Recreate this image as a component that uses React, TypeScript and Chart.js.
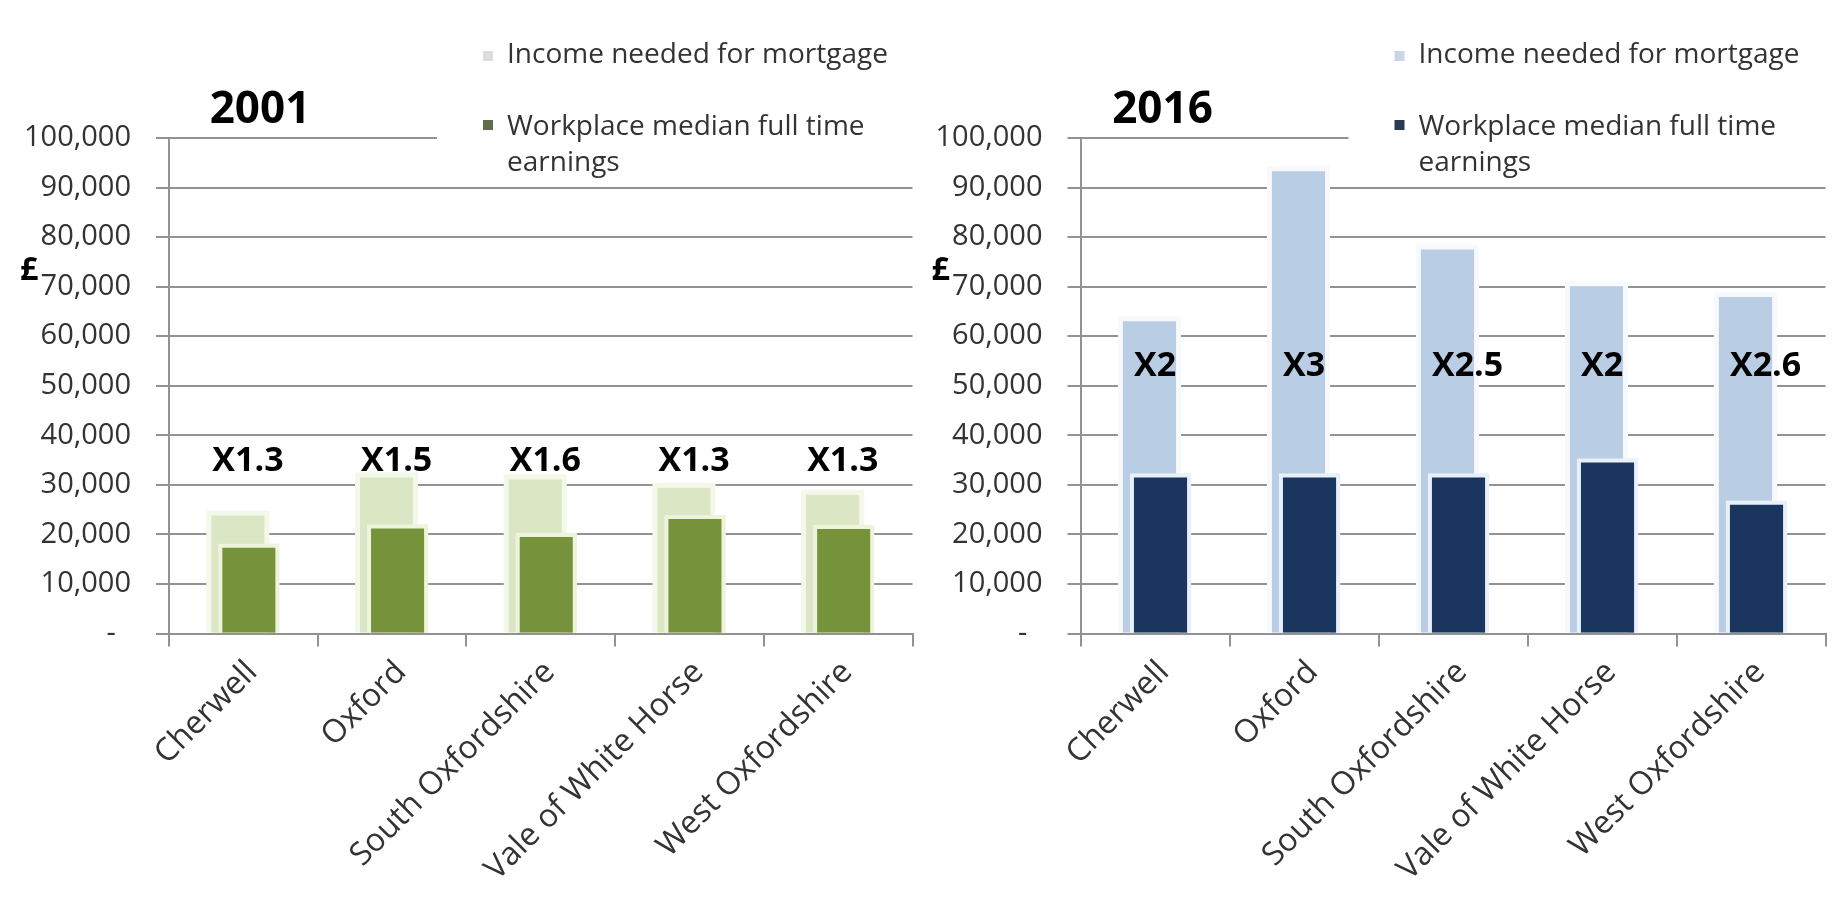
import React, { useEffect, useRef } from 'react';
import { Chart, registerables } from 'chart.js';

Chart.register(...registerables);

// ---------- data ----------
const categories = ['Cherwell', 'Oxford', 'South Oxfordshire', 'Vale of White Horse', 'West Oxfordshire'];
const seriesNames = ['Income needed for mortgage', 'Workplace median full time earnings'];
const legendLines = [['Income needed for mortgage'], ['Workplace median full time', 'earnings']];

const income2001 = [23800, 31500, 31100, 29400, 28000];
const earnings2001 = [17300, 21200, 19500, 23100, 21100];
const multiples2001 = ['X1.3', 'X1.5', 'X1.6', 'X1.3', 'X1.3'];
const multipleLevel2001 = 34800;

const income2016 = [63000, 93300, 77500, 70100, 67900];
const earnings2016 = [31500, 31500, 31500, 34500, 26000];
const multiples2016 = ['X2', 'X3', 'X2.5', 'X2', 'X2.6'];
const multipleLevel2016 = 53900;

const yMin = 0;
const yMax = 100000;
const yStep = 10000;

// ---------- style ----------
const FAMILY = '"Open Sans", "Noto Sans", sans-serif';
const TEXT = '#333333';
const GRID = '#929292';
const GLOW_SIZE = [5, 4];

type PanelSpec = {
  title: string;
  income: number[];
  earnings: number[];
  multiples: string[];
  multipleLevel: number;
  light: string;
  dark: string;
  marker: string[];
  glow: string[];
  left: number;
  yWidth: number;
  padRight: number;
  titleDx: number;
  multDx: number;
};

const W = 910;
const H = 887;

function makeDecor(p: PanelSpec) {
  return {
    id: 'decor' + p.title,
    beforeDatasetsDraw(chart: any) {
      const { ctx, chartArea } = chart;
      ctx.save();
      ctx.fillStyle = '#ffffff';
      ctx.fillRect(chartArea.left + 268, 0, chart.width - chartArea.left - 268, chartArea.top + 10);
      ctx.restore();
    },
    beforeDatasetDraw(chart: any, args: any) {
      const ctx = chart.ctx;
      const meta = chart.getDatasetMeta(args.index);
      const g = GLOW_SIZE[args.index];
      ctx.save();
      ctx.fillStyle = p.glow[args.index];
      meta.data.forEach((el: any) => {
        const { x, y, base, width } = el.getProps(['x', 'y', 'base', 'width'], true);
        ctx.fillRect(x - width / 2 - g, y - g, width + 2 * g, base - y + g);
      });
      ctx.restore();
    },
    afterDatasetsDraw(chart: any) {
      const ctx = chart.ctx;
      // bring the earnings bars (dataset 1) to the front, with their glow
      const meta = chart.getDatasetMeta(1);
      const g = GLOW_SIZE[1];
      ctx.save();
      ctx.fillStyle = p.glow[1];
      meta.data.forEach((el: any) => {
        const { x, y, base, width } = el.getProps(['x', 'y', 'base', 'width'], true);
        ctx.fillRect(x - width / 2 - g, y - g, width + 2 * g, base - y + g);
      });
      ctx.restore();
      meta.data.forEach((el: any) => el.draw(ctx));

      // multiple labels
      const xs = chart.scales.x;
      const ys = chart.scales.y;
      ctx.save();
      ctx.font = `bold 34px ${FAMILY}`;
      ctx.fillStyle = '#000000';
      ctx.textAlign = 'left';
      ctx.textBaseline = 'middle';
      p.multiples.forEach((m, i) => {
        ctx.fillText(m, xs.getPixelForValue(i) + p.multDx, ys.getPixelForValue(p.multipleLevel));
      });
      ctx.restore();
    },
    afterDraw(chart: any) {
      const { ctx, chartArea } = chart;
      ctx.save();
      // title
      ctx.font = `bold 44px ${FAMILY}`;
      ctx.fillStyle = '#000000';
      ctx.textAlign = 'center';
      ctx.textBaseline = 'alphabetic';
      ctx.fillText(p.title, chartArea.left + p.titleDx, 115);
      // pound sign
      ctx.font = `bold 32px ${FAMILY}`;
      ctx.textAlign = 'left';
      ctx.fillText('£', chartArea.left - 149, 272);
      // legend
      const mx = chartArea.left + 314;
      const tx = chartArea.left + 338;
      ctx.fillStyle = p.marker[0];
      ctx.fillRect(mx, 43, 10, 10);
      ctx.fillStyle = p.marker[1];
      ctx.fillRect(mx, 112, 10, 10);
      ctx.font = `28px ${FAMILY}`;
      ctx.fillStyle = TEXT;
      const baselines = [[54.5], [127, 163]];
      legendLines.forEach((lines, i) => {
        lines.forEach((line, j) => ctx.fillText(line, tx, baselines[i][j]));
      });
      ctx.restore();
    },
  };
}

function Panel({ spec }: { spec: PanelSpec }) {
  const ref = useRef<HTMLCanvasElement>(null);
  useEffect(() => {
    const chart = new Chart(ref.current as HTMLCanvasElement, {
      type: 'bar',
      data: {
        labels: categories,
        datasets: [
          {
            label: seriesNames[0],
            data: spec.income,
            backgroundColor: spec.light,
            borderWidth: 0,
            categoryPercentage: 0.148,
            barPercentage: 4.82,
          },
          {
            label: seriesNames[1],
            data: spec.earnings,
            backgroundColor: spec.dark,
            borderWidth: 0,
            categoryPercentage: 0.148,
            barPercentage: 4.82,
          },
        ],
      },
      options: {
        animation: false,
        responsive: false,
        events: [],
        layout: { padding: { top: 130, right: spec.padRight, left: 0, bottom: 0 } },
        plugins: {
          legend: { display: false },
          tooltip: { enabled: false },
          title: { display: false },
        },
        scales: {
          x: {
            offset: true,
            grid: {
              display: true,
              offset: true,
              drawOnChartArea: false,
              drawTicks: true,
              tickLength: 13,
              color: GRID,
              lineWidth: 2,
            },
            border: { display: true, color: GRID, width: 2 },
            ticks: {
              autoSkip: false,
              maxRotation: 45,
              minRotation: 45,
              padding: 7,
              labelOffset: 9,
              font: { family: FAMILY, size: 32 },
              color: TEXT,
            },
            afterFit: (s: any) => {
              s.height = H - 625.5;
            },
          },
          y: {
            min: yMin,
            max: yMax,
            ticks: {
              stepSize: yStep,
              padding: 25,
              font: { family: FAMILY, size: 29 },
              color: TEXT,
              callback: (v: any) => (Number(v) === 0 ? '-  ' : Number(v).toLocaleString('en-GB')),
            },
            grid: { color: GRID, lineWidth: 2, tickLength: 13, drawTicks: true },
            border: { display: true, color: GRID, width: 2 },
            afterFit: (s: any) => {
              s.width = spec.yWidth;
            },
          },
        },
      },
      plugins: [makeDecor(spec)],
    } as any);
    return () => chart.destroy();
  }, []);
  return (
    <canvas
      ref={ref}
      width={W}
      height={H}
      style={{ position: 'absolute', left: spec.left, top: 0, width: W, height: H, display: 'block' }}
    />
  );
}

const panel2001: PanelSpec = {
  title: '2001',
  income: income2001,
  earnings: earnings2001,
  multiples: multiples2001,
  multipleLevel: multipleLevel2001,
  light: '#dbe6c4',
  dark: '#76933c',
  marker: ['#dcdcdc', '#5e6e48'],
  glow: ['#f4f8ea', '#eef4dc'],
  left: 0,
  yWidth: 161,
  padRight: 5.5,
  titleDx: 91,
  multDx: -31,
};

const panel2016: PanelSpec = {
  title: '2016',
  income: income2016,
  earnings: earnings2016,
  multiples: multiples2016,
  multipleLevel: multipleLevel2016,
  light: '#b9cde5',
  dark: '#1a365f',
  marker: ['#c9d6ea', '#2a3a55'],
  glow: ['#f7f9fd', '#e9f0fa'],
  left: 910,
  yWidth: 162.5,
  padRight: 2.5,
  titleDx: 82,
  multDx: -21,
};

export default function App() {
  return (
    <div style={{ position: 'relative', width: 1820, height: 887 }}>
      <Panel spec={panel2001} />
      <Panel spec={panel2016} />
    </div>
  );
}
